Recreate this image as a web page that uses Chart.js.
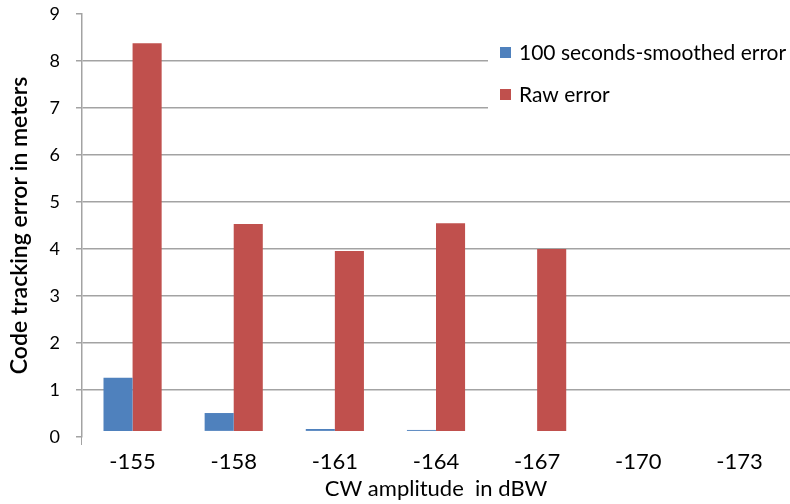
<!DOCTYPE html>
<html>
<head>
<meta charset="utf-8">
<script src="https://cdn.jsdelivr.net/npm/chart.js@4/dist/chart.umd.min.js"></script>
<style>
  html, body { margin: 0; padding: 0; background: #fff; overflow: hidden; }
  #wrap { width: 790px; height: 504px; }
</style>
</head>
<body>
<div id="wrap"><canvas id="cwChart" width="790" height="504"></canvas></div>
<script>
const categories = ['-155', '-158', '-161', '-164', '-167', '-170', '-173'];
const smoothedError = [1.26, 0.51, 0.17, 0.15, null, null, null];
const rawError = [8.38, 4.53, 3.96, 4.55, 4.0, null, null];
const seriesNames = ['100 seconds-smoothed error', 'Raw error'];
const seriesColors = ['#4F81BD', '#C0504D'];
const yMin = 0;
const yMax = 9;

const font = 'Lato, "Open Sans", sans-serif';
const gridColor = '#a3a3a3';

// legend box sits inside the plot, over the upper gridlines
const boxLegend = {
    id: 'boxLegend',
    afterDraw(chart) {
        const ctx = chart.ctx;
        ctx.save();
        ctx.fillStyle = '#fff';
        ctx.fillRect(488, 28, 302, 90);
        ctx.font = '21px ' + font;
        ctx.textBaseline = 'middle';
        chart.data.datasets.forEach((ds, i) => {
            const y = 53 + i * 42;
            ctx.fillStyle = ds.backgroundColor;
            ctx.fillRect(500, y - 6, 11, 11);
            ctx.fillStyle = '#000';
            ctx.fillText(ds.label, 519, y);
        });
        ctx.restore();
    }
};

const cwChart = new Chart(
    document.getElementById('cwChart'), {
    type: 'bar',
    data: {
        labels: categories,
        datasets: [{
            label: seriesNames[0],
            data: smoothedError,
            backgroundColor: seriesColors[0],
            base: 0.13
        }, {
            label: seriesNames[1],
            data: rawError,
            backgroundColor: seriesColors[1],
            base: 0.13
        }]
    },
    options: {
        responsive: false,
        animation: false,
        layout: { padding: { top: 14, right: 0, left: 0, bottom: 0 } },
        categoryPercentage: 0.575,
        barPercentage: 1,
        plugins: {
            legend: { display: false },
            tooltip: { enabled: false }
        },
        scales: {
            x: {
                offset: true,
                grid: {
                    offset: true,
                    drawOnChartArea: false,
                    tickLength: 8,
                    color: c => c.index === 0 ? gridColor : 'rgba(0,0,0,0)'
                },
                border: { display: false },
                ticks: { color: '#000', font: { family: font, size: 22 }, padding: 4 },
                title: {
                    display: true,
                    text: 'CW amplitude  in dBW',
                    color: '#000',
                    font: { family: font, size: 22 },
                    padding: { top: 0, bottom: 2 }
                },
                afterFit: s => { s.height = 67; }
            },
            y: {
                min: yMin,
                max: yMax,
                ticks: { stepSize: 1, color: '#000', font: { family: font, size: 18 }, padding: 16 },
                grid: {
                    color: c => (c.tick.value === yMin || c.tick.value === yMax) ? 'rgba(0,0,0,0)' : gridColor,
                    lineWidth: 1.5,
                    tickLength: 6,
                    tickColor: gridColor
                },
                border: { display: true, color: gridColor, width: 1.5 },
                title: {
                    display: true,
                    text: 'Code tracking error in meters',
                    color: '#000',
                    font: { family: font, size: 23, weight: '600' },
                    padding: { top: 6, bottom: 0 }
                },
                afterFit: s => { s.width = 82; s.paddingTop = 0; }
            }
        }
    },
    plugins: [boxLegend]
}
);
</script>
</body>
</html>
